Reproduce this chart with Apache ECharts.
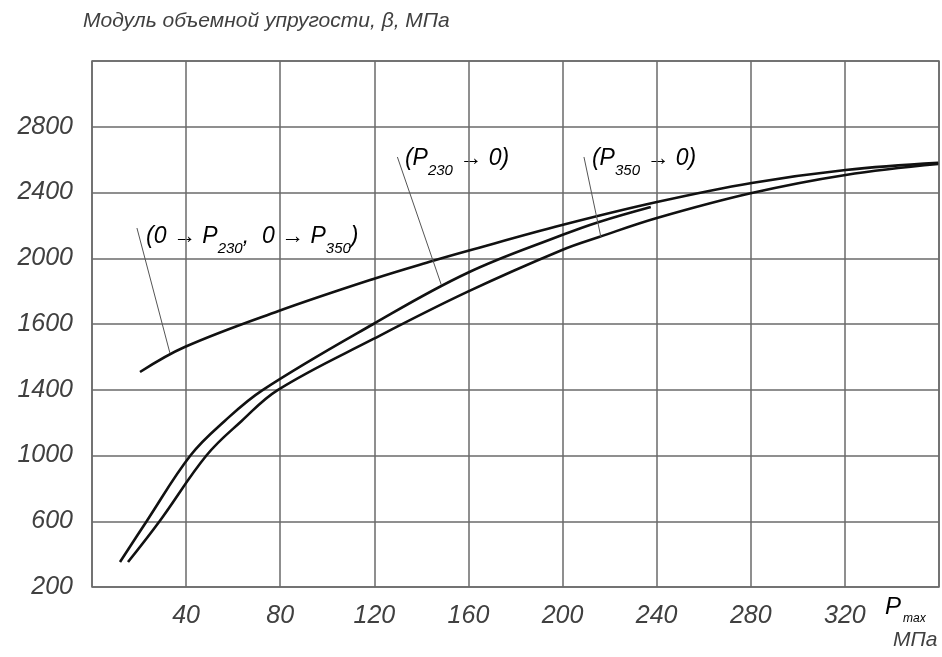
<!DOCTYPE html>
<html>
<head>
<meta charset="utf-8">
<script src="https://cdn.jsdelivr.net/npm/echarts@6/dist/echarts.min.js"></script>
<style>
html,body{margin:0;padding:0;background:#fff;}
#chart{width:942px;height:657px;}
</style>
</head>
<body>
<div id="chart"></div>
<script>
// X axis (P_max, MPa) tick labels
var xTickLabels = [40, 80, 120, 160, 200, 240, 280, 320];
// Y axis tick labels as printed on the original (one per grid step of 400)
var yTickLabels = ['200', '600', '1000', '1400', '1600', '2000', '2400', '2800'];

// Curve (0 -> P230, 0 -> P350): loading
var loadX = [20.4, 39.4, 79.3, 119.6, 144.6, 159.5, 199.8, 240.1, 280.4, 320.3, 359.7];
var loadY = [1308, 1460, 1679, 1874, 1983, 2044, 2202, 2342, 2458, 2537, 2580];

// Curve (P230 -> 0): unloading from 230 MPa
var unl230X = [11.9, 23.3, 42.0, 56.4, 72.5, 119.6, 159.5, 199.8, 215.5, 237.5];
var unl230Y = [152, 402, 803, 1010, 1198, 1600, 1910, 2141, 2221, 2312];

// Curve (P350 -> 0): unloading from 350 MPa
var unl350X = [15.3, 28.8, 48.8, 63.6, 78.9, 119.6, 159.5, 199.8, 215.5, 240.1, 280.4, 320.3, 359.7];
var unl350Y = [152, 402, 803, 1010, 1198, 1509, 1795, 2050, 2129, 2245, 2397, 2507, 2573];

function pairs(xs, ys) { return xs.map(function (x, i) { return [x, ys[i]]; }); }

var font = 'Liberation Sans';
var txtColor = '#404040';
var gridColor = '#6a6a6a';

var chart = echarts.init(document.getElementById('chart'), null, {renderer: 'canvas'});

var curveStyle = {color: '#111', width: 2.6};
var leaderStyle = {color: '#555', width: 1, type: 'solid'};

function leader(p1, p2) {
  return [{coord: p1, symbol: 'none'}, {coord: p2, symbol: 'none'}];
}

function curve(name, xs, ys, leaderPts) {
  return {
    type: 'line', name: name, data: pairs(xs, ys), smooth: 0.38,
    showSymbol: false, lineStyle: curveStyle, silent: true,
    markLine: {silent: true, symbol: 'none', label: {show: false}, lineStyle: leaderStyle,
      data: [leader(leaderPts[0], leaderPts[1])]}
  };
}

var option = {
  animation: false,
  backgroundColor: '#fff',
  grid: {left: 92, right: 1, top: 61, bottom: 70, show: true, borderColor: gridColor, borderWidth: 1.5},
  xAxis: {
    type: 'value', min: 0, max: 360, interval: 40,
    axisLine: {show: false}, axisTick: {show: false},
    splitLine: {show: true, lineStyle: {color: gridColor, width: 1.5}},
    axisLabel: {
      margin: 17, fontFamily: font, fontStyle: 'italic', fontSize: 25, color: txtColor,
      formatter: function (v) { return xTickLabels.indexOf(v) >= 0 ? String(v) : ''; }
    }
  },
  yAxis: {
    type: 'value', min: 0, max: 3200, interval: 400,
    axisLine: {show: false}, axisTick: {show: false},
    splitLine: {show: true, lineStyle: {color: gridColor, width: 1.5}},
    axisLabel: {
      margin: 19, fontFamily: font, fontStyle: 'italic', fontSize: 25, color: txtColor,
      formatter: function (v) { var i = Math.round(v / 400); return yTickLabels[i] !== undefined ? yTickLabels[i] : ''; }
    }
  },
  series: [
    curve('(0→P230, 0→P350)', loadX, loadY, [[19.1, 2184], [33.1, 1424]]),
    curve('(P230→0)', unl230X, unl230Y, [[129.8, 2616], [148.5, 1837]]),
    curve('(P350→0)', unl350X, unl350Y, [[209.1, 2616], [216.3, 2129]])
  ],
  graphic: []
};
chart.setOption(option);

var rich = {
  n: {fontFamily: font, fontStyle: 'italic', fontSize: 23, color: txtColor, verticalAlign: 'bottom', lineHeight: 30},
  s: {fontFamily: font, fontStyle: 'italic', fontSize: 15, color: txtColor, verticalAlign: 'bottom', lineHeight: 22, padding: [0, 0, -8, 0]}
};

function annot(xy, text) {
  var p = chart.convertToPixel({gridIndex: 0}, xy);
  return {type: 'text', x: p[0], y: p[1], silent: true,
    style: {text: text, rich: rich, textVerticalAlign: 'middle'}};
}

chart.setOption({
  graphic: [
    {type: 'text', left: 83, top: 11, silent: true,
      style: {text: 'Модуль объемной упругости, β, МПа', fontFamily: font, fontStyle: 'italic', fontSize: 21, fill: txtColor}},
    annot([23, 2150], '{n|(0 → P}{s|230}{n|,  0 → P}{s|350}{n|)}'),
    annot([133, 2625], '{n|(P}{s|230}{n| → 0)}'),
    annot([212.5, 2625], '{n|(P}{s|350}{n| → 0)}'),
    {type: 'text', left: 885, top: 595, silent: true,
      style: {text: '{n|P}{s|max}', rich: {
        n: {fontFamily: font, fontStyle: 'italic', fontSize: 24, color: txtColor, verticalAlign: 'bottom'},
        s: {fontFamily: font, fontStyle: 'italic', fontSize: 12, color: txtColor, verticalAlign: 'bottom', padding: [0, 0, -6, 2]}
      }}},
    {type: 'text', left: 893, top: 630, silent: true,
      style: {text: 'МПа', fontFamily: font, fontStyle: 'italic', fontSize: 21, fill: txtColor}}
  ]
});
</script>
</body>
</html>
